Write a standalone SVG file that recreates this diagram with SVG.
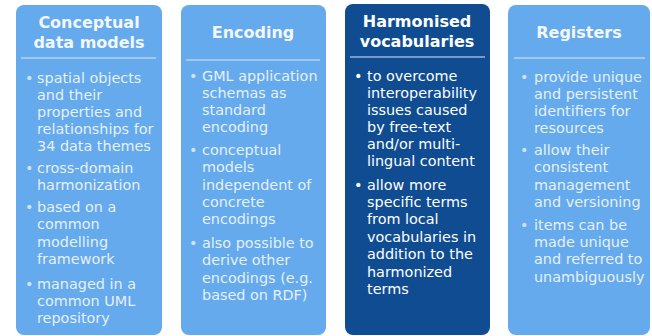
<svg xmlns="http://www.w3.org/2000/svg" width="652" height="336" viewBox="0 0 652 336">
<style>
.box{fill:#64aaec}
.dark{fill:#0f4c92}
.title{font-family:"DejaVu Sans",Verdana,sans-serif;font-weight:bold;font-size:16px;fill:#f2f7fd;text-anchor:middle}
.body{font-family:"DejaVu Sans",Verdana,sans-serif;font-size:14.4px;fill:#e6f0fa}
.dbody{font-family:"DejaVu Sans",Verdana,sans-serif;font-size:14.4px;fill:#ffffff}
.bul{fill:#cfe3f7}
.sep{stroke:#dceafa;stroke-width:1.2}
</style>
<rect width="652" height="336" fill="#ffffff"/>
<g id="node-conceptual">
<rect class="box" x="16" y="5" width="146" height="330" rx="8"/>
<text class="title" x="89" y="28">Conceptual</text>
<text class="title" x="89" y="48">data models</text>
<line class="sep" x1="21" y1="58" x2="156" y2="58"/>
<g class="body">
<text x="25" y="83" class="bul">•</text>
<text x="37" y="83">spatial objects</text>
<text x="37" y="100">and their</text>
<text x="37" y="117">properties and</text>
<text x="37" y="134">relationships for</text>
<text x="37" y="151">34 data themes</text>
<text x="25" y="173" class="bul">•</text>
<text x="37" y="173">cross-domain</text>
<text x="37" y="190">harmonization</text>
<text x="25" y="212" class="bul">•</text>
<text x="37" y="212">based on a</text>
<text x="37" y="229">common</text>
<text x="37" y="247">modelling</text>
<text x="37" y="264">framework</text>
<text x="25" y="289" class="bul">•</text>
<text x="37" y="289">managed in a</text>
<text x="37" y="306">common UML</text>
<text x="37" y="323">repository</text>
</g>
</g>
<g id="node-encoding">
<rect class="box" x="181" y="5" width="145" height="330" rx="8"/>
<text class="title" x="253" y="38">Encoding</text>
<line class="sep" x1="186" y1="60" x2="320" y2="60"/>
<g class="body">
<text x="189" y="81" class="bul">•</text>
<text x="202" y="81">GML application</text>
<text x="202" y="98">schemas as</text>
<text x="202" y="115">standard</text>
<text x="202" y="132">encoding</text>
<text x="189" y="155" class="bul">•</text>
<text x="202" y="155">conceptual</text>
<text x="202" y="172">models</text>
<text x="202" y="190">independent of</text>
<text x="202" y="207">concrete</text>
<text x="202" y="224">encodings</text>
<text x="189" y="248" class="bul">•</text>
<text x="202" y="248">also possible to</text>
<text x="202" y="265">derive other</text>
<text x="202" y="283">encodings (e.g.</text>
<text x="202" y="300">based on RDF)</text>
</g>
</g>
<g id="node-vocabularies">
<rect class="dark" x="345" y="4" width="145" height="331" rx="8"/>
<text class="title" x="417" y="27" style="fill:#ffffff">Harmonised</text>
<text class="title" x="417" y="47" style="fill:#ffffff">vocabularies</text>
<line class="sep" x1="350" y1="57" x2="485" y2="57"/>
<g class="dbody">
<text x="354" y="81">•</text>
<text x="367" y="81">to overcome</text>
<text x="367" y="98">interoperability</text>
<text x="367" y="115">issues caused</text>
<text x="367" y="132">by free-text</text>
<text x="367" y="149">and/or multi-</text>
<text x="367" y="166">lingual content</text>
<text x="354" y="190">•</text>
<text x="367" y="190">allow more</text>
<text x="367" y="207">specific terms</text>
<text x="367" y="224">from local</text>
<text x="367" y="242">vocabularies in</text>
<text x="367" y="259">addition to the</text>
<text x="367" y="277">harmonized</text>
<text x="367" y="294">terms</text>
</g>
</g>
<g id="node-registers">
<rect class="box" x="508" y="5" width="142" height="330" rx="8"/>
<text class="title" x="579" y="38">Registers</text>
<line class="sep" x1="514" y1="58" x2="645" y2="58"/>
<g class="body">
<text x="520" y="82" class="bul">•</text>
<text x="534" y="82">provide unique</text>
<text x="534" y="99">and persistent</text>
<text x="534" y="116">identifiers for</text>
<text x="534" y="133">resources</text>
<text x="520" y="155" class="bul">•</text>
<text x="534" y="155">allow their</text>
<text x="534" y="172">consistent</text>
<text x="534" y="190">management</text>
<text x="534" y="207">and versioning</text>
<text x="520" y="230" class="bul">•</text>
<text x="534" y="230">items can be</text>
<text x="534" y="247">made unique</text>
<text x="534" y="264">and referred to</text>
<text x="534" y="282">unambiguously</text>
</g>
</g>
<g id="connectors"></g>
</svg>
